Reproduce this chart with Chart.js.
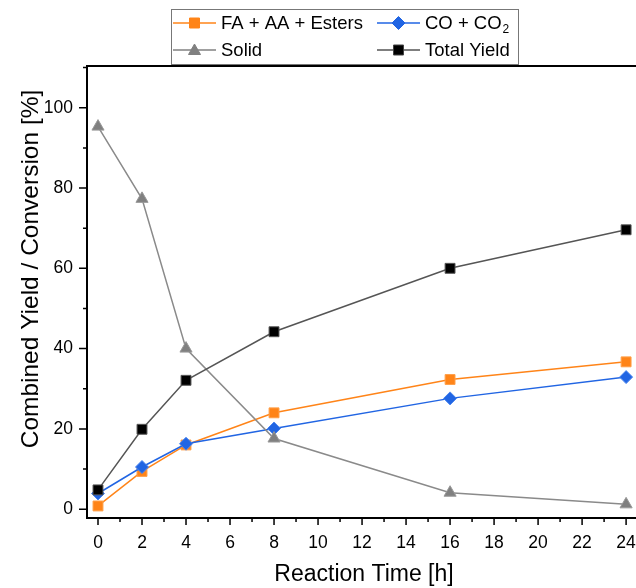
<!DOCTYPE html>
<html>
<head>
<meta charset="utf-8">
<script src="https://cdn.jsdelivr.net/npm/chart.js@4.4.1/dist/chart.umd.min.js"></script>
<style>
    body { margin: 0; background: #fff; overflow: hidden; }
    #caixa { width: 636px; height: 588px; }
</style>
</head>
<body>
<div id="caixa"><canvas id="grafico" width="636" height="588"></canvas></div>
<script>
// dados
const horas = [0, 2, 4, 8, 16, 24];
const faAaEsters = [0.8, 9.4, 16.0, 24.0, 32.3, 36.7];
const coCo2 = [3.9, 10.5, 16.3, 20.1, 27.6, 32.9];
const solido = [95.3, 77.3, 40.0, 17.6, 4.1, 1.2];
const rendimentoTotal = [4.8, 19.9, 32.1, 44.2, 60.0, 69.6];

const ticksX = [0, 2, 4, 6, 8, 10, 12, 14, 16, 18, 20, 22, 24];
const ticksY = [0, 20, 40, 60, 80, 100];

const fonte = 'Liberation Sans, Arial, sans-serif';
const corLaranja = '#FF8418';
const corAzul = '#2165E3';
const corCinza = '#808080';

function pontos(valores) {
    return horas.map((h, i) => ({ x: h, y: valores[i] }));
}

// marcador simples para a legenda
function desenharMarcador(ctx, tipo, x, y, cor, borda) {
    ctx.save();
    ctx.fillStyle = cor;
    ctx.strokeStyle = borda;
    ctx.lineWidth = 1;
    ctx.beginPath();
    if (tipo === 'rect') {
        ctx.rect(x - 5, y - 5, 10, 10);
    } else if (tipo === 'rectRot') {
        ctx.moveTo(x, y - 6.5);
        ctx.lineTo(x + 6.5, y);
        ctx.lineTo(x, y + 6.5);
        ctx.lineTo(x - 6.5, y);
        ctx.closePath();
    } else {
        ctx.moveTo(x, y - 6);
        ctx.lineTo(x + 6, y + 4.5);
        ctx.lineTo(x - 6, y + 4.5);
        ctx.closePath();
    }
    ctx.fill();
    ctx.stroke();
    ctx.restore();
}

const pluginMoldura = {
    id: 'moldura',
    afterDraw(chart) {
        const ctx = chart.ctx;
        const area = chart.chartArea;
        const sx = chart.scales.x;
        const sy = chart.scales.y;

        // borda de cima (a da direita fica fora da imagem)
        ctx.save();
        ctx.strokeStyle = '#000';
        ctx.lineWidth = 2;
        ctx.beginPath();
        ctx.moveTo(area.left, area.top);
        ctx.lineTo(area.right, area.top);
        ctx.stroke();

        // marcas dos eixos (maiores e menores)
        ctx.lineWidth = 1.5;
        ctx.beginPath();
        for (let v = 0; v <= 24; v++) {
            const px = sx.getPixelForValue(v);
            const tam = ticksX.includes(v) ? 7 : 4;
            ctx.moveTo(px, area.bottom);
            ctx.lineTo(px, area.bottom + tam);
        }
        for (let v = 0; v <= 110; v += 10) {
            const py = sy.getPixelForValue(v);
            const tam = ticksY.includes(v) ? 8 : 4;
            ctx.moveTo(area.left, py);
            ctx.lineTo(area.left - tam, py);
        }
        ctx.stroke();

        // titulos dos eixos
        ctx.fillStyle = '#000';
        ctx.textAlign = 'center';
        ctx.textBaseline = 'middle';
        ctx.font = '23px ' + fonte;
        ctx.fillText('Reaction Time [h]', 364, 575);
        ctx.translate(31, 269);
        ctx.rotate(-Math.PI / 2);
        ctx.font = '24.5px ' + fonte;
        ctx.fillText('Combined Yield / Conversion [%]', 0, 0);
        ctx.restore();

        // legenda
        ctx.save();
        ctx.fillStyle = '#fff';
        ctx.fillRect(171, 9, 347, 55);
        ctx.strokeStyle = '#777';
        ctx.lineWidth = 1;
        ctx.strokeRect(171.5, 9.5, 347, 55);

        const itens = [
            { x: 173, y: 23, cor: corLaranja, linha: corLaranja, tipo: 'rect', borda: corLaranja, texto: 'FA + AA + Esters' },
            { x: 377, y: 23, cor: corAzul, linha: corAzul, tipo: 'rectRot', borda: corAzul, texto: 'CO + CO' },
            { x: 173, y: 50, cor: corCinza, linha: corCinza, tipo: 'triangle', borda: corCinza, texto: 'Solid' },
            { x: 377, y: 50, cor: '#000', linha: '#555', tipo: 'rect', borda: '#444', texto: 'Total Yield' }
        ];
        ctx.font = '18.5px ' + fonte;
        ctx.textBaseline = 'middle';
        ctx.textAlign = 'left';
        itens.forEach(item => {
            ctx.strokeStyle = item.linha;
            ctx.lineWidth = 1.5;
            ctx.beginPath();
            ctx.moveTo(item.x, item.y);
            ctx.lineTo(item.x + 43, item.y);
            ctx.stroke();
            desenharMarcador(ctx, item.tipo, item.x + 21.5, item.y, item.cor, item.borda);
            ctx.fillStyle = '#000';
            ctx.fillText(item.texto, item.x + 48, item.y + 1);
            if (item.tipo === 'rectRot') {
                const w = ctx.measureText(item.texto).width;
                ctx.font = '12px ' + fonte;
                ctx.fillText('2', item.x + 48 + w + 1, item.y + 7);
                ctx.font = '18.5px ' + fonte;
            }
        });
        ctx.restore();
    }
};

function serie(rotulo, valores, cor, linha, estilo, borda, ordem) {
    return {
        label: rotulo,
        data: pontos(valores),
        borderColor: linha,
        backgroundColor: cor,
        borderWidth: 1.5,
        pointStyle: estilo,
        pointRadius: estilo === 'rectRot' ? 6.5 : 7,
        pointHoverRadius: 7,
        pointBackgroundColor: cor,
        pointBorderColor: borda,
        pointBorderWidth: 1,
        tension: 0,
        order: ordem,
        clip: false
    };
}

// zera o espaco extra que o Chart.js reserva para o ultimo rotulo
function semMargemX(s) {
    s.height = 70;
    s.paddingLeft = 0;
    s.paddingRight = 0;
}

const canva = document.getElementById('grafico').getContext('2d');
const grafico = new Chart(canva, {
    type: 'line',
    data: {
        datasets: [
            serie('FA + AA + Esters', faAaEsters, corLaranja, corLaranja, 'rect', '#ffa04a', 4),
            serie('CO + CO2', coCo2, corAzul, corAzul, 'rectRot', '#4a85ee', 3),
            serie('Solid', solido, corCinza, '#8a8a8a', 'triangle', '#999', 2),
            serie('Total Yield', rendimentoTotal, '#000', '#555', 'rect', '#555', 1)
        ]
    },
    options: {
        responsive: false,
        animation: false,
        events: [],
        layout: { autoPadding: false, padding: { top: 66, right: 0, left: 0, bottom: 0 } },
        plugins: {
            legend: { display: false },
            tooltip: { enabled: false }
        },
        scales: {
            x: {
                type: 'linear',
                min: -0.5,
                max: 24.45,
                afterBuildTicks: s => { s.ticks = ticksX.map(v => ({ value: v })); },
                afterFit: semMargemX,
                grid: { display: false, drawTicks: false },
                border: { display: true, color: '#000', width: 2 },
                ticks: {
                    color: '#000',
                    font: { family: fonte, size: 17.5 },
                    padding: 15,
                    maxRotation: 0,
                    autoSkip: false
                }
            },
            y: {
                min: -2.2,
                max: 110.4,
                afterBuildTicks: s => { s.ticks = ticksY.map(v => ({ value: v })); },
                afterFit: s => { s.width = 87; s.paddingTop = 0; s.paddingBottom = 0; },
                grid: { display: false, drawTicks: false },
                border: { display: true, color: '#000', width: 2 },
                ticks: {
                    color: '#000',
                    font: { family: fonte, size: 17.5 },
                    padding: 14
                }
            }
        }
    },
    plugins: [pluginMoldura]
});
</script>
</body>
</html>
